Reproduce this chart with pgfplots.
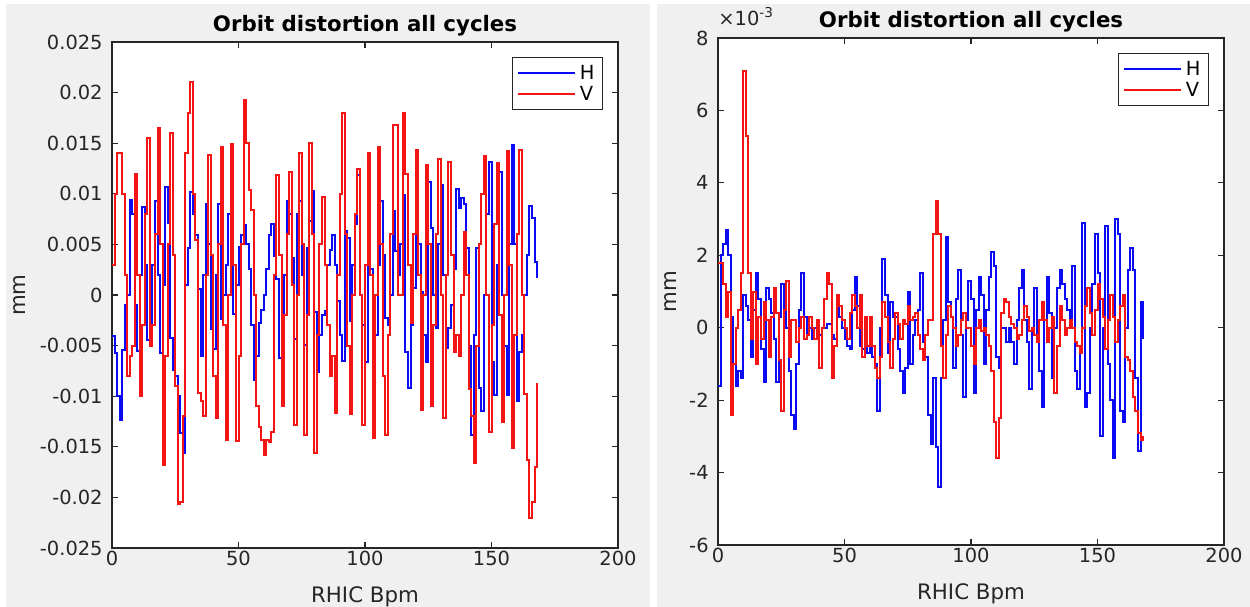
\documentclass[border=0pt]{standalone}
\usepackage{pgfplots}
\pgfplotsset{compat=1.18}
\usepackage{pgfplotstable}
\usepackage{fontspec}
\setmainfont{DejaVu Sans}
\definecolor{axgray}{HTML}{262626}
\definecolor{figbg}{HTML}{F0F0F0}
\definecolor{hblue}{RGB}{10,10,245}
\definecolor{vred}{RGB}{245,20,20}

% left panel, values in units of 1e-3 mm
\pgfplotstableread{
x h v
0 -4.1 3
1 -5.7 10
2 -10 14
3 -12.4 14
4 -5.4 10
5 -1 2
6 0 -8
7 9.4 -6
8 8 -5
9 -1 12
10 -5.5 2
11 2 -10
12 8.7 -3
13 3 8
14 -4.4 15.5
15 -4 -5
16 3 -3
17 9.3 6
18 2 16.5
19 -5.7 5
20 1 -16.8
21 10.7 -6
22 7.1 5
23 -4.2 16
24 -7.4 4
25 -8 -9
26 -10 -20.7
27 -13.6 -20.5
28 -15.6 -12
29 1 14
30 4.6 18
31 10.2 21
32 8 10
33 5.9 5.4
34 0.6 -9.7
35 -6 -10.5
36 2 -12
37 9 2
38 5 13.8
39 -3.4 4
40 -5.3 -8
41 2 -12.2
42 9 5
43 -2.4 14.6
44 0 -3
45 3 -14.3
46 8 0
47 3 14.9
48 -1.9 3
49 1 -14.4
50 4.7 -6
51 5.9 5
52 6.9 19.3
53 5 15
54 2.6 10.4
55 -3 8.4
56 -8.4 0
57 -6 -11
58 -2.8 -13
59 -1.5 -14.3
60 0 -15.8
61 2.6 -14.3
62 5.9 -14.5
63 7 -13.5
64 3.9 2
65 1.6 11.9
66 -6.2 4
67 -3.9 -11
68 2 -2
69 9.3 6
70 8 12.2
71 3.7 1
72 -4.3 -12.8
73 8 0
74 9.3 14
75 2 5
76 -4.9 -13.8
77 4.6 -2
78 7.3 15
79 10.3 6
80 -1.7 -15.6
81 -7.6 -4
82 -4 5
83 -2 9.7
84 -1.6 3
85 3 -3
86 4.4 -8
87 5.9 -6
88 3 -11.7
89 -0.6 2
90 -4 10
91 -6.5 18
92 6.3 6
93 5.6 -5
94 -2.6 -11.8
95 3 0
96 7 8
97 11.9 12.5
98 0 0
99 -3 -12.8
100 -6.6 3
101 11.2 14
102 2.6 2
103 -1 -14.1
104 -4 0
105 3 14.6
106 9.3 5
107 4 -8
108 -2.3 -13.8
109 -3 -4
110 0 6
111 8.3 16.8
112 4.3 16.8
113 2 0
114 5 0
115 9.9 18
116 -5.6 12
117 -9.2 3
118 -3 -2.8
119 0.7 6
120 8.3 14.3
121 5 2
122 0.3 -11.4
123 -4 0
124 -6.6 12.8
125 11.2 5
126 6.6 -11
127 0 -3
128 -3.3 6
129 5 13.4
130 10.9 0
131 2 -12.2
132 -5.2 2
133 -3.3 13.1
134 -1 4
135 2.6 -5.6
136 10.5 -4
137 8.6 -6
138 9.6 0
139 9 6.2
140 4.6 2
141 -5 -9.3
142 -13.8 -12
143 -4 -16.6
144 4.6 -5
145 -9.2 5
146 -11.5 10
147 0 13.7
148 8 0
149 13.1 -13.5
150 -6.6 -3
151 -9.9 7
152 3 13
153 12.2 -2
154 0 -12.5
155 -5 0
156 -9.9 14.2
157 5 3
158 14.8 -15.1
159 5 -4
160 -10.5 6
161 -5.6 14.3
162 -4 0
163 0 -9.8
164 4 -16.3
165 8.8 -22
166 7.6 -20.5
167 3.3 -17
168 1.7 -8.7
}\leftdata

% right panel, values in units of 1e-3 mm
\pgfplotstableread{
x h v
0 -1.6 1.8
1 2.0 1.8
2 2.3 1.2
3 2.7 0.3
4 2.0 1.0
5 0.3 -2.4
6 -1 -1
7 -1.6 0
8 -1.2 0.5
9 -1.4 1.5
10 0.9 7.1
11 0.6 5.3
12 0.2 1.5
13 -0.8 -0.3
14 0.5 1.0
15 1.5 -1.0
16 0.8 0.3
17 -0.6 -0.3
18 -1.5 0.7
19 1.1 0.2
20 0.8 -0.8
21 0.4 0.3
22 -0.3 1.1
23 -1.5 0.4
24 0.3 -0.9
25 1.2 -2.3
26 0.5 0.5
27 0 1.3
28 -1.2 -0.8
29 -2.4 0.2
30 -2.8 0.2
31 -1 -0.4
32 0.5 0
33 1.5 0.3
34 0.3 -0.3
35 -0.2 -0.2
36 0 0.3
37 -0.3 0
38 0 -0.3
39 0.1 0.2
40 -0.2 -1.1
41 0 0
42 0 0.8
43 0.1 1.5
44 0.1 1.2
45 -0.2 -1.4
46 -0.3 -0.5
47 0.6 0.9
48 0.3 0.6
49 0 0.2
50 -0.3 0
51 -0.5 -0.3
52 -0.6 0.4
53 0.5 0.9
54 1.4 0.6
55 0.6 0
56 -0.5 0.9
57 -0.6 -0.8
58 -0.4 0.3
59 -0.7 -0.5
60 -0.5 0.3
61 -0.8 -0.5
62 -1.0 -1.1
63 -2.3 -1.4
64 0 -0.8
65 1.9 0.7
66 0.9 0.3
67 -0.7 -0.4
68 0.7 -1.1
69 0.3 -0.3
70 0.3 0.4
71 -0.6 0.1
72 -1.2 -0.3
73 -1.8 0.2
74 -1.1 0.1
75 1.0 0.6
76 -1 0.2
77 -0.2 0.3
78 0.2 0.4
79 0.5 -0.2
80 1.5 -0.6
81 -0.4 -0.9
82 -0.8 -0.2
83 -2.4 0.2
84 -3.2 0.2
85 -1.4 2.6
86 -3.3 3.5
87 -4.4 2.6
88 -1.4 -0.5
89 0.2 -1.4
90 2.5 -0.2
91 0.7 0.6
92 0.3 0.3
93 -1.1 0
94 0.8 -0.5
95 1.6 -0.2
96 -0.2 0.2
97 -1.9 0.4
98 0.2 0
99 1.3 0
100 0.8 -0.5
101 -1.8 -1.0
102 0.5 0
103 1.4 0.2
104 0.9 -0.1
105 -1.0 0
106 0.5 -0.2
107 1.4 -0.5
108 2.1 -1.2
109 1.7 -2.6
110 -0.8 -3.6
111 -1.1 -2.5
112 0 0.4
113 0 0.8
114 -0.4 0.7
115 0 0.3
116 -0.4 0.1
117 -1 0
118 0.2 -0.3
119 1.1 -0.2
120 1.6 0.2
121 0.2 0.6
122 -0.4 0.3
123 -1.7 -0.1
124 0 0
125 1.1 -0.2
126 -0.4 -0.4
127 -1.2 0.2
128 -2.2 0.7
129 0.2 0.2
130 1.4 -0.4
131 0.4 0
132 -1.4 0.3
133 0 -1.8
134 1.1 -0.5
135 1.6 0.6
136 1.2 0.2
137 0.8 -0.2
138 0.5 0
139 0.2 0.2
140 1.7 0
141 -1.2 -0.4
142 -1.7 -0.5
143 -0.6 -0.7
144 2.9 0
145 -2.2 0.6
146 -1.8 1.1
147 0 0.4
148 1.2 -0.2
149 2.6 0.5
150 1.5 1.2
151 -3.0 0.8
152 0 0.3
153 2.8 -0.6
154 -1 0.2
155 -2 0.9
156 -3.6 0.3
157 3.0 -0.4
158 2.6 0.2
159 -2.3 0.6
160 -2.6 0.9
161 0 -0.8
162 1.6 -0.9
163 2.2 -1.2
164 1.6 -1.9
165 -1.4 -2.3
166 -3.4 -2.9
167 0.7 -3.1
168 -0.3 -3.0
}\rightdata

\pgfplotsset{
  orbit/.style={
    scale only axis, width=253bp, anchor=south west,
    xmin=0, xmax=200, xtick={0,50,100,150,200},
    tick align=inside, tick pos=both,
    major tick length=3bp,
    axis line style={draw=axgray, line width=0.6bp},
    every tick/.style={draw=axgray, line width=0.6bp},
    tick label style={font=\fontsize{9.75}{11}\selectfont, text=axgray},
    /pgf/number format/assume math mode=true,
    xticklabel style={anchor=base, yshift=-8.5bp, inner sep=0pt},
    yticklabel style={anchor=east, xshift=-4.5bp, inner sep=0pt},
    every axis title/.style={font=\fontsize{10.7}{12}\selectfont\bfseries, at={(0.5,1)}, anchor=base, yshift=5.3bp, inner sep=0pt},
    every axis x label/.style={font=\fontsize{10.7}{12}\selectfont, text=axgray, at={(0.5,0)}, anchor=base, yshift=-27.4bp, inner sep=0pt},
    axis background/.style={fill=white},
    title={Orbit distortion all cycles},
    xlabel={RHIC Bpm},
    ylabel={mm},
    legend style={draw=axgray, line width=0.6bp, fill=white,
      at={(1,1)}, anchor=north east, xshift=-7.5bp, yshift=-7.5bp,
      inner xsep=2bp, inner ysep=2.5bp, row sep=0pt,
      font=\fontsize{9.75}{11}\selectfont,
      nodes={inner xsep=2bp, inner ysep=1.5bp, text height=7bp, text depth=0.5bp}},
    legend cell align=left,
    legend image code/.code={\draw[#1] (0bp,0bp) -- (28.5bp,0bp);},
  },
}

\begin{document}
\begin{tikzpicture}
\path[use as bounding box] (0,0) rectangle (625bp,303.5bp);
\fill[figbg] (3bp,0) rectangle (325bp,301.5bp);
\fill[figbg] (328.5bp,0) rectangle (625bp,301.5bp);

\begin{axis}[orbit, at={(56bp,29.5bp)}, height=253bp,
  ymin=-25, ymax=25, ytick={-25,-20,-15,-10,-5,0,5,10,15,20,25},
  yticklabels={-0.025,-0.02,-0.015,-0.01,-0.005,0,0.005,0.01,0.015,0.02,0.025},
  every axis y label/.style={font=\fontsize{10.7}{12}\selectfont, text=axgray, at={(-0.182,0.5)}, anchor=center, rotate=90, inner sep=0pt}]
\addplot[const plot, hblue, line width=1bp] table[x=x, y=h] {\leftdata};
\addlegendentry{H}
\addplot[const plot, vred, line width=1bp] table[x=x, y=v] {\leftdata};
\addlegendentry{V}
\end{axis}

\begin{axis}[orbit, name=R, at={(359bp,31bp)}, height=253.5bp,
  ymin=-6, ymax=8, ytick={-6,-4,-2,0,2,4,6,8},
  yticklabels={-6,-4,-2,0,2,4,6,8},
  every axis y label/.style={font=\fontsize{10.7}{12}\selectfont, text=axgray, at={(-0.093,0.5)}, anchor=center, rotate=90, inner sep=0pt}]
\addplot[const plot, hblue, line width=1bp] table[x=x, y=h] {\rightdata};
\addlegendentry{H}
\addplot[const plot, vred, line width=1bp] table[x=x, y=v] {\rightdata};
\addlegendentry{V}
\end{axis}
\node[anchor=base west, inner sep=0pt, text=axgray, font=\fontsize{9.75}{11}\selectfont] at ([yshift=6.5bp]R.north west) {×10\textsuperscript{-3}};
\end{tikzpicture}
\end{document}
